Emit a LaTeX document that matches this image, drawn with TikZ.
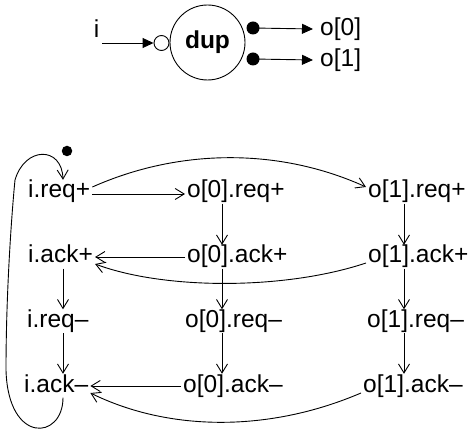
\documentclass[tikz,border=0pt]{standalone}
\usepackage{fontspec}
\setmainfont{Liberation Sans}
\usetikzlibrary{arrows.meta}
\begin{document}
\begin{tikzpicture}[x=1pt,y=-1pt,
  every node/.style={font=\fontsize{24.5pt}{29pt}\selectfont},
  ev/.style={anchor=base west, inner xsep=2pt, inner ysep=0.5pt, text height=17.5pt, text depth=5pt},
  arr/.style={line width=0.9pt, -{Straight Barb[length=9pt,width=11pt,line width=0.9pt]}},
  tri/.style={line width=0.9pt, -{Triangle[length=11pt,width=10pt]}},
  ln/.style={line width=0.9pt},
  dot/.style={circle, fill=black, minimum size=13pt, inner sep=0pt}]
\useasboundingbox (0,0) rectangle (471,435);
% ---------- top symbol ----------
\node[inner sep=0pt] (ilab) at (96.5,28.5) {i};
\coordinate (inS) at (102,43);
\node[circle, draw, ln, minimum size=15pt, inner sep=0pt] (ic) at (161.5,43) {};
\node[circle, draw, ln, minimum size=75pt, inner sep=0pt, font=\fontsize{24.5pt}{29pt}\selectfont\bfseries] (dup) at (207.5,42.5) {dup};
\node[anchor=west, inner sep=0pt, text height=17.5pt, text depth=5pt] (o0l) at (320,29) {o[0]};
\node[anchor=west, inner sep=0pt, text height=17.5pt, text depth=5pt] (o1l) at (320,60) {o[1]};
\node[dot] (d0) at (253,28) {};
\node[dot] (d1) at (253,59) {};
\draw[tri] (inS) -- (ic.west);
\draw[tri] (d0.center) -- ([xshift=-7pt]o0l.west);
\draw[tri] (d1.center) -- ([xshift=-7pt]o1l.west);
% ---------- STG ----------
\node[ev] (irp) at (26,198) {i.req+};
\node[ev] (iap) at (26,263) {i.ack+};
\node[ev] (irm) at (25,327.5) {i.req–};
\node[ev] (iam) at (22,392) {i.ack–};
\node[ev] (o0rp) at (185,198) {o[0].req+};
\node[ev] (o0ap) at (185,263) {o[0].ack+};
\node[ev] (o0rm) at (183,327.5) {o[0].req–};
\node[ev] (o0am) at (181,392) {o[0].ack–};
\node[ev] (o1rp) at (366,198) {o[1].req+};
\node[ev] (o1ap) at (366,263) {o[1].ack+};
\node[ev] (o1rm) at (365,327.5) {o[1].req–};
\node[ev] (o1am) at (361,392) {o[1].ack–};
\coordinate (cI) at (63,0);
\coordinate (cA) at (222,0);
\coordinate (cB) at (404,0);
% vertical arcs
\draw[arr] (iap.south -| cI) -- (irm.north -| cI);
\draw[arr] (irm.south -| cI) -- (iam.north -| cI);
\draw[arr] (o0rp.south -| cA) -- (o0ap.north -| cA);
\draw[arr] (o0ap.south -| cA) -- (o0rm.north -| cA);
\draw[arr] (o0rm.south -| cA) -- (o0am.north -| cA);
\draw[arr] (o1rp.south -| cB) -- (o1ap.north -| cB);
\draw[arr] (o1ap.south -| cB) -- (o1rm.north -| cB);
\draw[arr] (o1rm.south -| cB) -- (o1am.north -| cB);
% horizontal arcs
\draw[arr] ([yshift=4pt]irp.base east) -- ([yshift=4pt]o0rp.base west);
\draw[arr] ([yshift=6pt]o0ap.base west) -- ([yshift=6pt]iap.base east);
\draw[arr] ([yshift=6pt]o0am.base west) -- ([yshift=6pt]iam.base east);
% curved arcs
\draw[arr] ([yshift=11pt]irp.base east) .. controls (180,148) and (280,148) .. ([yshift=11pt]o1rp.base west);
\draw[arr] (o1ap.base west) .. controls (285,290) and (165,290) .. ([yshift=-1pt]iap.base east);
\draw[arr] ([yshift=-1pt]o1am.base west) .. controls (270,432) and (170,432) .. ([yshift=-1pt]iam.base east);
% loop with token
\draw[arr] (iam.south -| cI) .. controls (63,440) and (8,445) .. (6,370)
  .. controls (6,290) and (12,210) .. (15,180)
  .. controls (25,146) and (62,146) .. (irp.north -| cI);
\node[circle, fill=black, minimum size=10.5pt, inner sep=0pt] (tok) at (67,151) {};
\end{tikzpicture}
\end{document}
